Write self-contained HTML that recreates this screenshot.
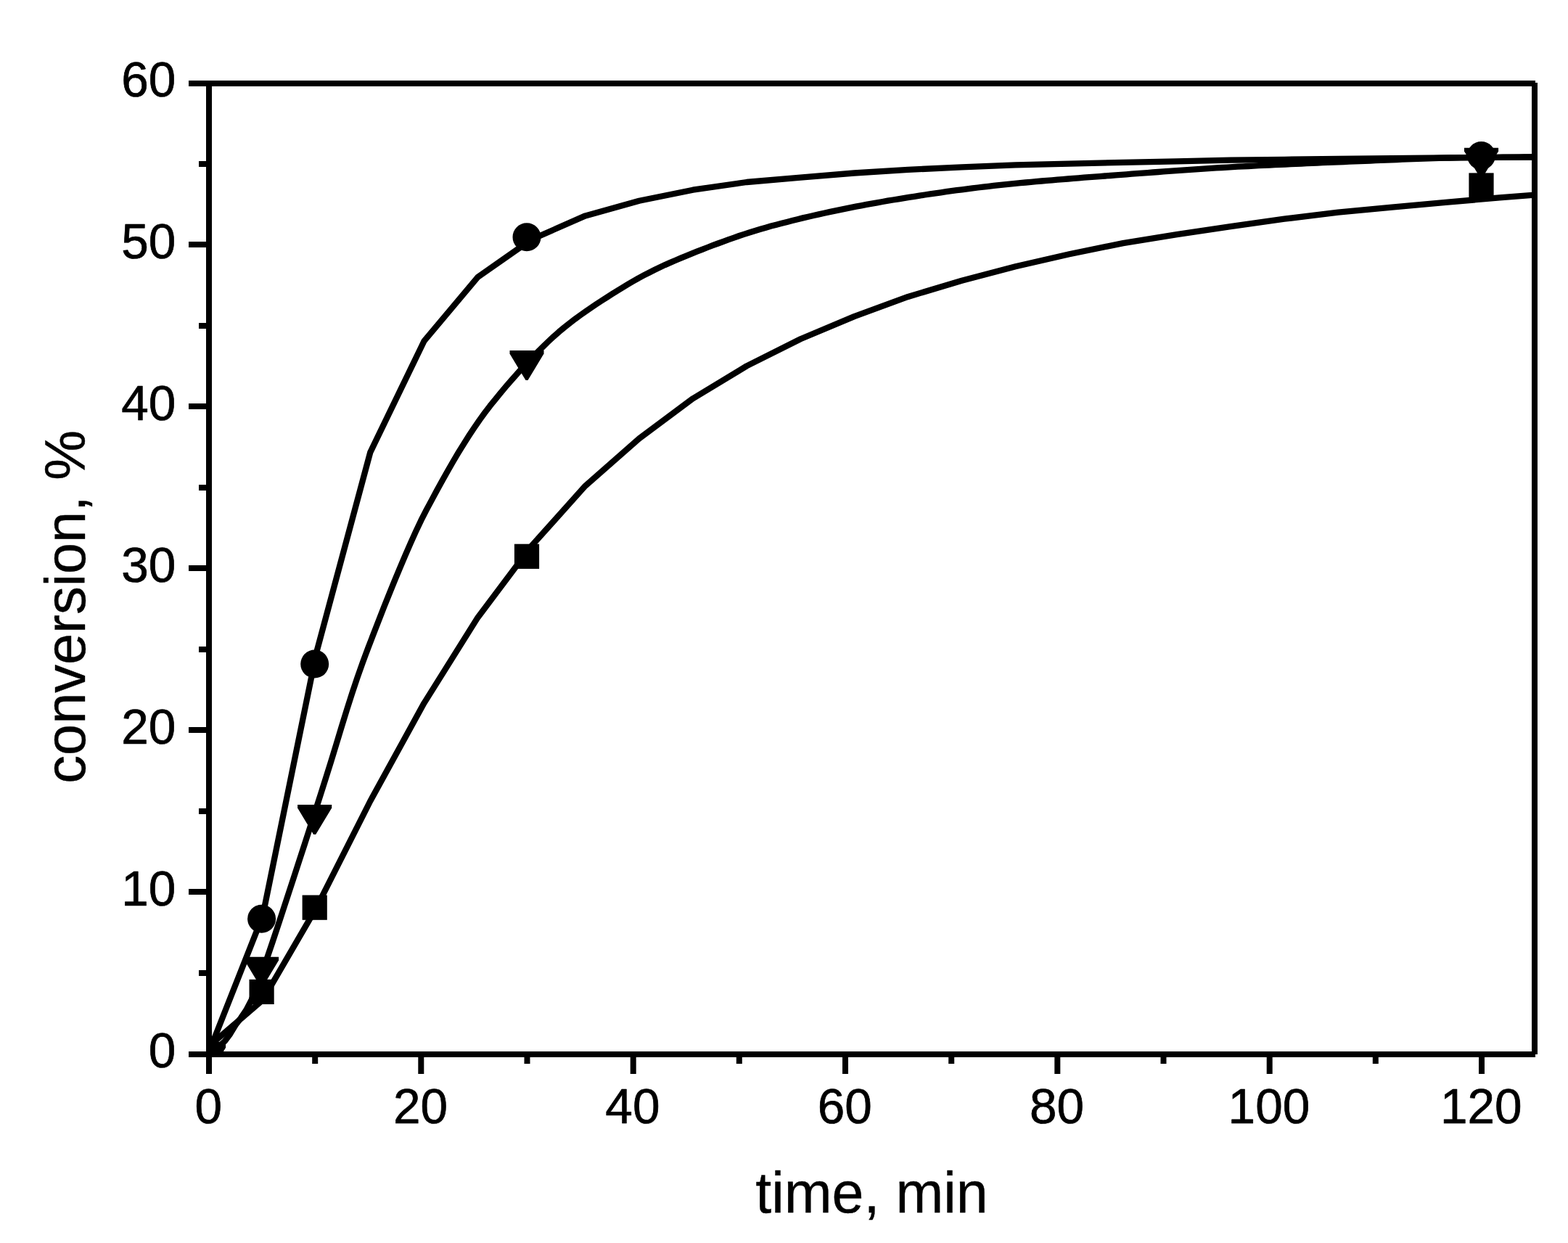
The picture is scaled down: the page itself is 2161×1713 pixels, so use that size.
<!DOCTYPE html>
<html lang="en"><head><meta charset="utf-8"><title>conversion vs time</title>
<style>
html,body{margin:0;padding:0;background:#fff;}
body{width:2161px;height:1713px;overflow:hidden;}
svg{display:block;}
text{font-family:"Liberation Sans",Arial,Helvetica,sans-serif;fill:#000;stroke:#000;stroke-width:0.7px;stroke-linejoin:round;}
.tick{font-size:67.5px;}
.title{font-size:79px;stroke-width:0.4px;}
.ytitle{font-size:77.5px;stroke-width:0.4px;}
</style></head><body>
<svg xmlns="http://www.w3.org/2000/svg" width="2161" height="1713" viewBox="0 0 2161 1713">
<rect x="0" y="0" width="2161" height="1713" fill="#fff"/>
<defs><clipPath id="plot"><rect x="288.0" y="115.0" width="1827.0" height="1338.0"/></clipPath></defs>
<g clip-path="url(#plot)">
<g fill="none" stroke="#000" stroke-width="8.3" stroke-linejoin="round" stroke-linecap="butt">
<polyline points="288.0,1449.7 362.1,1262.1 436.2,898.8 510.3,623.4 584.4,470.2 658.5,381.9 732.6,330.0 806.7,297.4 880.9,276.7 955.0,261.7 1029.1,251.0 1103.2,244.6 1177.3,238.5 1251.4,233.9 1325.5,230.3 1399.6,227.4 1473.7,225.6 1547.8,223.8 1621.9,222.3 1696.0,220.6 1770.1,219.8 1844.2,219.0 1918.3,218.2 1992.4,217.5 2066.6,216.8 2140.7,216.2"/>
<polyline points="288.0,1453.0 295.3,1447.2 302.6,1441.4 309.9,1434.7 317.2,1424.9 324.5,1412.8 331.9,1402.9 339.2,1392.1 346.5,1378.1 353.8,1360.4 361.1,1340.3 368.4,1319.4 375.7,1297.9 383.0,1276.0 390.3,1253.8 397.6,1231.5 404.9,1209.2 412.2,1186.7 419.6,1164.1 426.9,1141.5 434.2,1118.7 441.5,1095.9 448.8,1073.0 456.1,1049.7 463.4,1025.9 470.7,1001.8 478.0,978.1 485.3,955.2 492.6,933.5 499.9,912.9 507.2,893.2 514.6,874.0 521.9,855.2 529.2,836.6 536.5,818.4 543.8,800.4 551.1,782.8 558.4,765.6 565.7,748.9 573.0,732.6 580.3,717.2 587.6,702.9 595.0,689.1 602.3,675.5 609.6,662.2 616.9,649.2 624.2,636.5 631.5,624.2 638.8,612.3 646.1,600.8 653.4,589.7 660.7,579.1 668.0,569.0 675.3,559.4 682.7,550.3 690.0,541.4 697.3,532.7 704.6,524.2 711.9,515.9 719.2,507.8 726.5,499.9 733.8,492.3 741.1,484.9 748.4,477.7 755.7,470.6 763.0,463.8 770.4,457.3 777.7,451.2 785.0,445.4 792.3,439.8 799.6,434.5 806.9,429.4 814.2,424.4 821.5,419.4 828.8,414.6 836.1,409.9 843.4,405.3 850.7,400.8 858.1,396.3 865.4,391.8 872.7,387.5 880.0,383.3 887.3,379.4 894.6,375.7 901.9,372.0 909.2,368.5 916.5,365.1 923.8,361.9 931.1,358.7 938.4,355.6 945.8,352.6 953.1,349.6 960.4,346.7 967.7,343.8 975.0,341.0 982.3,338.2 989.6,335.5 996.9,332.8 1004.2,330.1 1011.5,327.6 1018.8,325.0 1026.1,322.6 1033.5,320.2 1040.8,318.0 1048.1,315.8 1055.4,313.7 1062.7,311.6 1070.0,309.7 1077.3,307.8 1084.6,305.9 1091.9,304.0 1099.2,302.2 1106.5,300.4 1113.8,298.7 1121.2,297.0 1128.5,295.4 1135.8,293.7 1143.1,292.1 1150.4,290.6 1157.7,289.1 1165.0,287.6 1172.3,286.1 1179.6,284.7 1186.9,283.3 1194.2,281.9 1201.5,280.6 1208.8,279.3 1216.2,278.0 1223.5,276.7 1230.8,275.5 1238.1,274.3 1245.4,273.1 1252.7,271.9 1260.0,270.8 1267.3,269.6 1274.6,268.5 1281.9,267.4 1289.2,266.3 1296.6,265.3 1303.9,264.2 1311.2,263.2 1318.5,262.2 1325.8,261.3 1333.1,260.3 1340.4,259.4 1347.7,258.5 1355.0,257.6 1362.3,256.8 1369.6,255.9 1376.9,255.1 1384.2,254.4 1391.6,253.6 1398.9,252.9 1406.2,252.2 1413.5,251.5 1420.8,250.8 1428.1,250.2 1435.4,249.5 1442.7,248.9 1450.0,248.3 1457.3,247.7 1464.6,247.1 1472.0,246.5 1479.3,245.9 1486.6,245.3 1493.9,244.7 1501.2,244.2 1508.5,243.6 1515.8,243.1 1523.1,242.5 1530.4,242.0 1537.7,241.4 1545.0,240.8 1552.3,240.3 1559.7,239.7 1567.0,239.2 1574.3,238.6 1581.6,238.1 1588.9,237.5 1596.2,237.0 1603.5,236.4 1610.8,235.9 1618.1,235.4 1625.4,234.8 1632.7,234.3 1640.0,233.8 1647.4,233.3 1654.7,232.8 1662.0,232.4 1669.3,231.9 1676.6,231.4 1683.9,231.0 1691.2,230.6 1698.5,230.1 1705.8,229.7 1713.1,229.4 1720.4,229.0 1727.7,228.6 1735.0,228.2 1742.4,227.9 1749.7,227.5 1757.0,227.1 1764.3,226.8 1771.6,226.5 1778.9,226.1 1786.2,225.8 1793.5,225.5 1800.8,225.2 1808.1,224.8 1815.4,224.5 1822.8,224.2 1830.1,223.9 1837.4,223.6 1844.7,223.3 1852.0,223.0 1859.3,222.7 1866.6,222.4 1873.9,222.1 1881.2,221.8 1888.5,221.5 1895.8,221.2 1903.1,220.9 1910.5,220.6 1917.8,220.3 1925.1,220.0 1932.4,219.7 1939.7,219.4 1947.0,219.1 1954.3,218.8 1961.6,218.6 1968.9,218.3 1976.2,218.1 1983.5,217.9 1990.8,217.7 1998.2,217.5 2005.5,217.4 2012.8,217.2 2020.1,217.1 2027.4,217.1 2034.7,217.0 2042.0,216.9 2049.3,216.9 2056.6,216.8 2063.9,216.8 2071.2,216.7 2078.5,216.7 2085.9,216.6 2093.2,216.6 2100.5,216.5 2107.8,216.5 2115.1,216.4 2122.4,216.4 2129.7,216.3 2137.0,216.3 2144.3,216.2"/>
<polyline points="288.0,1441.8 362.1,1378.1 436.2,1250.7 510.3,1104.0 584.4,969.1 658.5,850.9 732.6,752.3 806.7,669.6 880.9,604.3 955.0,549.2 1029.1,504.4 1103.2,467.3 1177.3,436.1 1251.4,408.9 1325.5,386.8 1399.6,367.2 1473.7,350.3 1547.8,335.1 1621.9,323.1 1696.0,312.2 1770.1,301.7 1844.2,292.7 1918.3,285.6 1992.4,278.9 2066.6,272.4 2140.7,266.6"/>
</g>
<g fill="#000">
<rect x="270.4" y="1435.9" width="34.2" height="34.2"/>
<rect x="343.5" y="1349.8" width="34.2" height="34.2"/>
<rect x="416.6" y="1233.6" width="34.2" height="34.2"/>
<rect x="708.9" y="749.7" width="34.2" height="34.2"/>
<rect x="2024.4" y="238.4" width="34.2" height="34.2"/>
<circle cx="287.5" cy="1453.0" r="19.5"/>
<circle cx="360.6" cy="1266.3" r="19.5"/>
<circle cx="433.7" cy="915.1" r="19.5"/>
<circle cx="726.0" cy="326.8" r="19.5"/>
<circle cx="2041.5" cy="214.5" r="19.5"/>
<polygon points="263.9,1439.2 311.1,1439.2 311.1,1443.8 289.1,1480.3 285.9,1480.3 263.9,1443.8"/>
<polygon points="337.0,1318.8 384.1,1318.8 384.1,1323.4 362.1,1359.9 359.0,1359.9 337.0,1323.4"/>
<polygon points="410.1,1108.9 457.2,1108.9 457.2,1113.5 435.2,1150.0 432.1,1150.0 410.1,1113.5"/>
<polygon points="702.5,483.0 749.5,483.0 749.5,487.6 727.5,524.1 724.5,524.1 702.5,487.6"/>
<polygon points="2018.0,203.8 2065.1,203.8 2065.1,208.4 2043.0,244.9 2040.0,244.9 2018.0,208.4"/>
</g></g>
<g fill="#000">
<rect x="260" y="111" width="1856" height="8"/>
<rect x="260" y="1449" width="1856" height="8"/>
<rect x="284" y="111" width="8" height="1369"/>
<rect x="2111" y="114" width="8" height="1339"/>
<rect x="260" y="111" width="28" height="8"/>
<rect x="274" y="222" width="14" height="8"/>
<rect x="260" y="333" width="28" height="8"/>
<rect x="274" y="445" width="14" height="8"/>
<rect x="260" y="556" width="28" height="8"/>
<rect x="274" y="668" width="14" height="8"/>
<rect x="260" y="779" width="28" height="8"/>
<rect x="274" y="891" width="14" height="8"/>
<rect x="260" y="1002" width="28" height="8"/>
<rect x="274" y="1114" width="14" height="8"/>
<rect x="260" y="1225" width="28" height="8"/>
<rect x="274" y="1337" width="14" height="8"/>
<rect x="260" y="1449" width="28" height="8"/>
<rect x="284.0" y="1453" width="8" height="27"/>
<rect x="430.2" y="1453" width="8" height="13"/>
<rect x="576.3" y="1453" width="8" height="27"/>
<rect x="722.5" y="1453" width="8" height="13"/>
<rect x="868.7" y="1453" width="8" height="27"/>
<rect x="1014.8" y="1453" width="8" height="13"/>
<rect x="1161.0" y="1453" width="8" height="27"/>
<rect x="1307.2" y="1453" width="8" height="13"/>
<rect x="1453.3" y="1453" width="8" height="27"/>
<rect x="1599.5" y="1453" width="8" height="13"/>
<rect x="1745.7" y="1453" width="8" height="27"/>
<rect x="1891.8" y="1453" width="8" height="13"/>
<rect x="2038.0" y="1453" width="8" height="27"/>
</g>
<text class="tick" transform="translate(242.3 1471.2) scale(1 1.020)" text-anchor="end">0</text>
<text class="tick" transform="translate(242.3 1248.2) scale(1 1.020)" text-anchor="end">10</text>
<text class="tick" transform="translate(242.3 1025.2) scale(1 1.020)" text-anchor="end">20</text>
<text class="tick" transform="translate(242.3 802.2) scale(1 1.020)" text-anchor="end">30</text>
<text class="tick" transform="translate(242.3 579.2) scale(1 1.020)" text-anchor="end">40</text>
<text class="tick" transform="translate(242.3 356.2) scale(1 1.020)" text-anchor="end">50</text>
<text class="tick" transform="translate(242.3 133.2) scale(1 1.020)" text-anchor="end">60</text>
<text class="tick" transform="translate(287.2 1548.2) scale(1 1.020)" text-anchor="middle">0</text>
<text class="tick" transform="translate(579.5 1548.2) scale(1 1.020)" text-anchor="middle">20</text>
<text class="tick" transform="translate(871.9 1548.2) scale(1 1.020)" text-anchor="middle">40</text>
<text class="tick" transform="translate(1164.2 1548.2) scale(1 1.020)" text-anchor="middle">60</text>
<text class="tick" transform="translate(1456.5 1548.2) scale(1 1.020)" text-anchor="middle">80</text>
<text class="tick" transform="translate(1748.9 1548.2) scale(1 1.020)" text-anchor="middle">100</text>
<text class="tick" transform="translate(2041.2 1548.2) scale(1 1.020)" text-anchor="middle">120</text>
<text class="title" x="1041.3" y="1671.3" text-anchor="start">time, min</text>
<text class="ytitle" transform="translate(116.7 1079.7) rotate(-90)" text-anchor="start">conversion, %</text>
</svg></body></html>
